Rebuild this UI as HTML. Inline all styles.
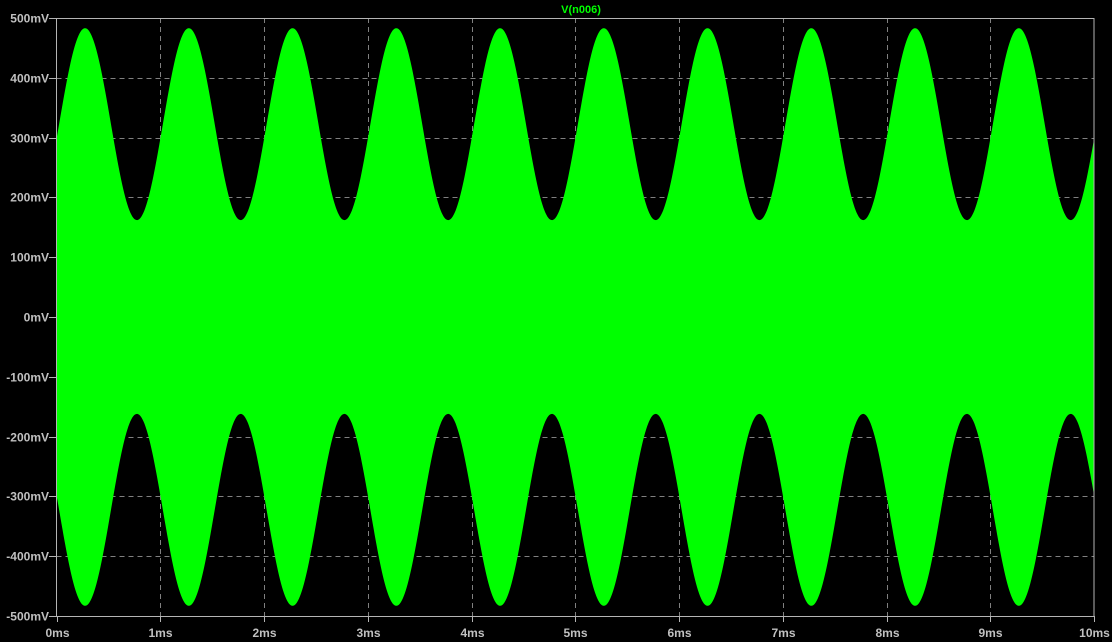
<!DOCTYPE html>
<html><head><meta charset="utf-8"><style>
html,body{margin:0;padding:0;background:#000;}
svg{display:block;}
text{font-family:"Liberation Sans",sans-serif;font-weight:bold;font-size:12px;fill:#c0c0c0;}
</style></head><body>
<svg id="chart" width="1112" height="642" xmlns="http://www.w3.org/2000/svg">
<rect width="1112" height="642" fill="#000"/>
<g id="grid"></g>
<path id="trace" fill="#00ff00" stroke="none"/>
<g id="axes"></g>
<text x="581" y="13" text-anchor="middle" style="fill:#00ff00;font-size:11px">V(n006)</text>
</svg>
<script>
// envelope extrema (time in ms, amplitude in mV); first/last lie just outside the 0-10ms window
const envTimes = [-0.225, 0.275, 0.775, 1.275, 1.775, 2.275, 2.775, 3.275, 3.775, 4.275, 4.775, 5.275, 5.775, 6.275, 6.775, 7.275, 7.775, 8.275, 8.775, 9.275, 9.775, 10.275];
const envValues = [162, 483, 162, 483, 162, 483, 162, 483, 162, 483, 162, 483, 162, 483, 162, 483, 162, 483, 162, 483, 162, 483];
const tStart = 0, tEnd = 10;
const xTicks = [0,1,2,3,4,5,6,7,8,9,10];
const xTickLabels = ["0ms","1ms","2ms","3ms","4ms","5ms","6ms","7ms","8ms","9ms","10ms"];
const yTicks = [500,400,300,200,100,0,-100,-200,-300,-400,-500];
const yTickLabels = ["500mV","400mV","300mV","200mV","100mV","0mV","-100mV","-200mV","-300mV","-400mV","-500mV"];

const X0=56.5, X1=1094, Y0=18, Y1=616;
const xs = t => X0 + (t-tStart)/(tEnd-tStart)*(X1-X0);
const ys = v => Y0 + (500-v)/1000*(Y1-Y0);
const NS="http://www.w3.org/2000/svg";
function env(t){
  for(let i=0;i<envTimes.length-1;i++){
    if(t<=envTimes[i+1]){
      const f=(t-envTimes[i])/(envTimes[i+1]-envTimes[i]);
      const s=(1-Math.cos(Math.PI*f))/2;
      return envValues[i]+(envValues[i+1]-envValues[i])*s;
    }
  }
  return envValues[envValues.length-1];
}
const grid=document.getElementById('grid'), axes=document.getElementById('axes');
function line(p,x1,y1,x2,y2,dash){
  const l=document.createElementNS(NS,'line');
  l.setAttribute('x1',x1);l.setAttribute('y1',y1);l.setAttribute('x2',x2);l.setAttribute('y2',y2);
  l.setAttribute('stroke',dash?'#808080':'#b4b4b4');l.setAttribute('stroke-width','1');
  if(dash)l.setAttribute('stroke-dasharray','5,4');
  p.appendChild(l);return l;
}
xTicks.forEach((t,i)=>{
  const x=Math.round(xs(t))+0.5;
  if(i>0&&i<xTicks.length-1){const g=line(grid,x,Y0,x,Y1,true);
    
    }
  const tk=line(axes,x,Y1,x,Y1+6,false);
  
  
  const tx=document.createElementNS(NS,'text');
  tx.setAttribute('x',x);tx.setAttribute('y',637);tx.setAttribute('text-anchor','middle');
  tx.textContent=xTickLabels[i];
  
  
  axes.appendChild(tx);
});
yTicks.forEach((v,i)=>{
  const y=Math.round(ys(v))+0.5;
  if(i>0&&i<yTicks.length-1){const g=line(grid,X0,y,X1,y,true);
    
    }
  const tk=line(axes,49,y,X0,y,false);
  
  
  const tx=document.createElementNS(NS,'text');
  tx.setAttribute('x',49);tx.setAttribute('y',y+4);tx.setAttribute('text-anchor','end');
  tx.textContent=yTickLabels[i];
  
  
  axes.appendChild(tx);
});
const fr=document.createElementNS(NS,'rect');
fr.setAttribute('x',X0);fr.setAttribute('y',Y0+0.5);fr.setAttribute('width',X1-X0);fr.setAttribute('height',Y1-Y0);
fr.setAttribute('fill','none');fr.setAttribute('stroke','#b4b4b4');


axes.appendChild(fr);
let up=[],lo=[];
const N=1040;
for(let k=0;k<=N;k++){
  const t=tStart+(tEnd-tStart)*k/N;
  const a=env(t);
  up.push(xs(t).toFixed(2)+','+ys(a).toFixed(2));
  lo.push(xs(t).toFixed(2)+','+ys(-a).toFixed(2));
}
document.getElementById('trace').setAttribute('d','M'+up.join('L')+'L'+lo.reverse().join('L')+'Z');
</script>
</body></html>
